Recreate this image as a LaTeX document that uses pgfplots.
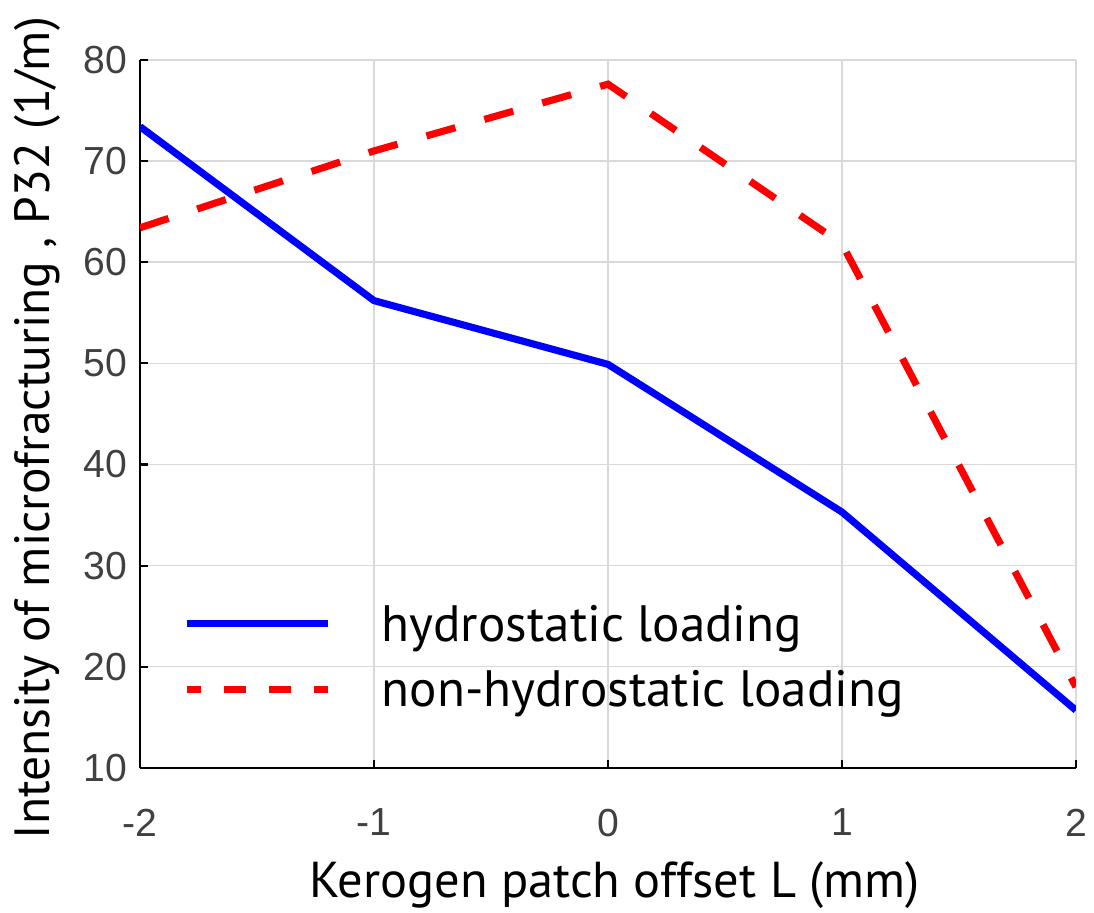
\documentclass[border=0pt]{standalone}
\usepackage{pgfplots}
\pgfplotsset{compat=1.18}
\usepackage{fontspec}
\setmainfont{PT Sans}
\newfontfamily\tickfont{Liberation Sans}

\begin{document}
\begin{tikzpicture}
\begin{axis}[
 name=ax,
 scale only axis, width=342.2pt, height=258.9pt,
 xmin=-2, xmax=2, ymin=10, ymax=80,
 xtick={-2,-1,0,1,2}, xticklabels={-2,-1,0,1,2},
 ytick={10,20,...,80}, yticklabels={10,20,30,40,50,60,70,80},
 axis x line*=bottom, axis y line*=left,
 axis line style={line width=0.75pt, -},
 tick align=inside, major tick length=3pt, tick style={black, line width=0.75pt},
 grid=major, grid style={line width=0.5pt, color=black!15},
 ticklabel style={font=\tickfont\fontsize{14.3}{14.3}\selectfont, text=black!75},
 xticklabel style={yshift=-11.5pt},
 yticklabel style={xshift=-1.2pt},
 xlabel={Kerogen patch offset L (mm)},
 ylabel={Intensity of microfracturing , P32 (1/m)},
 xlabel style={font=\fontsize{18.45}{18.45}\selectfont, at={(axis description cs:0.507,-0.1836)}, anchor=base},
 ylabel style={font=\fontsize{18.1}{18.1}\selectfont, at={(axis description cs:-0.0962,0.48)}, anchor=base},
 legend style={draw=none, fill=none, at={(axis cs:-1.816,20.65)}, anchor=west, inner sep=0pt, font=\fontsize{18.7}{18.7}\selectfont, row sep=6pt, nodes={inner sep=0pt, text height=14pt, text depth=4pt}},
 legend cell align=left,
 legend image code/.code={\draw[#1] (0pt,1.3pt) -- (51.5pt,1.3pt);},
 /tikz/every odd column/.append style={column sep=18.3pt},
]
\addplot[blue, line width=2.6pt] coordinates {(-2,73.4) (-1,56.2) (0,49.9) (1,35.3) (2,15.7)};
\addlegendentry{hydrostatic loading}
\addplot[red, line width=2.6pt, dash pattern=on 11pt off 11pt,
  legend image post style={dash pattern=on 8pt off 8.5pt, dash phase=3pt}] coordinates {(-2,63.4) (-1,71.0) (0,77.6) (1,61.8) (2,18.0)};
\addlegendentry{non-hydrostatic loading}
\end{axis}
\pgfresetboundingbox
\path[use as bounding box] ([xshift=-51.2pt,yshift=-52.7pt]ax.south west) rectangle ([xshift=6.6pt,yshift=21.9pt]ax.north east);
\end{tikzpicture}
\end{document}
